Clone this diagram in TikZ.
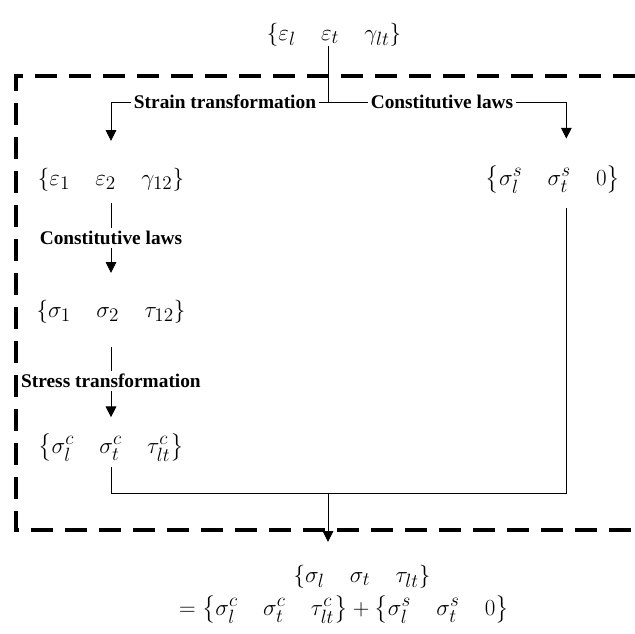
\documentclass[tikz,border=0pt]{standalone}
\usepackage{amsmath}
\usepackage{fontspec}
\setmainfont{Liberation Serif}
\usepackage{tikz}
\usetikzlibrary{arrows.meta}

\begin{document}
\begin{tikzpicture}[x=0.75pt,y=0.75pt,yscale=-1,xscale=1,
  tuple/.style={anchor=base,inner sep=0pt,font=\fontsize{19}{21}\selectfont},
  stage/.style={inner sep=2.25pt,font=\fontsize{14.5}{16}\selectfont\bfseries},
  wire/.style={line width=0.6pt},
  flow/.style={wire,-{Triangle[length=8pt,width=8pt]}},
  frame/.style={line width=3pt,dash pattern=on 16.5pt off 9pt}]
\useasboundingbox (0,0) rectangle (635,633);
% dashed frame, open on the right
\draw [frame] (635,76) -| (16,530) -- (635,530);
% tuples
\draw (334,40) node [tuple] (eltop) {$\left\{\varepsilon_l\quad\varepsilon_t\quad\gamma_{lt}\right\}$};
\draw (111,185) node [tuple] (eps12) {$\left\{\varepsilon_1\quad\varepsilon_2\quad\gamma_{12}\right\}$};
\draw (553,185) node [tuple] (sigs) {$\left\{\sigma_l^s\quad\sigma_t^s\quad 0\right\}$};
\draw (111,317) node [tuple] (sig12) {$\left\{\sigma_1\quad\sigma_2\quad\tau_{12}\right\}$};
\draw (111,453) node [tuple] (sigc) {$\left\{\sigma_l^c\quad\sigma_t^c\quad\tau_{lt}^c\right\}$};
\draw (362,582) node [tuple] (sigfin) {$\left\{\sigma_l\quad\sigma_t\quad\tau_{lt}\right\}$};
\draw (344,615) node [tuple] (sigsum) {$=\left\{\sigma_l^c\quad\sigma_t^c\quad\tau_{lt}^c\right\}+\left\{\sigma_l^s\quad\sigma_t^s\quad 0\right\}$};
% labels on the connectors
\draw (225,102) node [stage] (strain) {Strain transformation};
\draw (442,102) node [stage] (lawtop) {Constitutive laws};
\draw (111,238) node [stage] (lawleft) {Constitutive laws};
\draw (111,381) node [stage] (stress) {Stress transformation};
\coordinate (split) at (328,102);
\coordinate (merge) at (328,493);
% connectors
\draw [wire] (eltop.south -| split) -- (split);
\draw [wire] (split) -- (strain);
\draw [wire] (split) -- (lawtop);
\draw [flow,shorten >=20pt] (strain) -| (eps12);
\draw [flow,shorten >=20pt] (lawtop) -| ([xshift=10pt]sigs.north);
\draw [wire,shorten <=9pt] (eps12) -- (lawleft);
\draw [flow,shorten >=20pt] (lawleft) -- (sig12);
\draw [wire,shorten <=18pt] (sig12) -- (stress);
\draw [flow,shorten >=12pt] (stress) -- (sigc);
\draw [wire,shorten <=3.5pt] (sigc.south) |- (merge);
\draw [wire,shorten <=10.5pt] ([xshift=10pt]sigs.south) |- (merge);
\draw [flow,shorten >=17pt] (merge) -- (merge |- sigfin.north);
\end{tikzpicture}
\end{document}
